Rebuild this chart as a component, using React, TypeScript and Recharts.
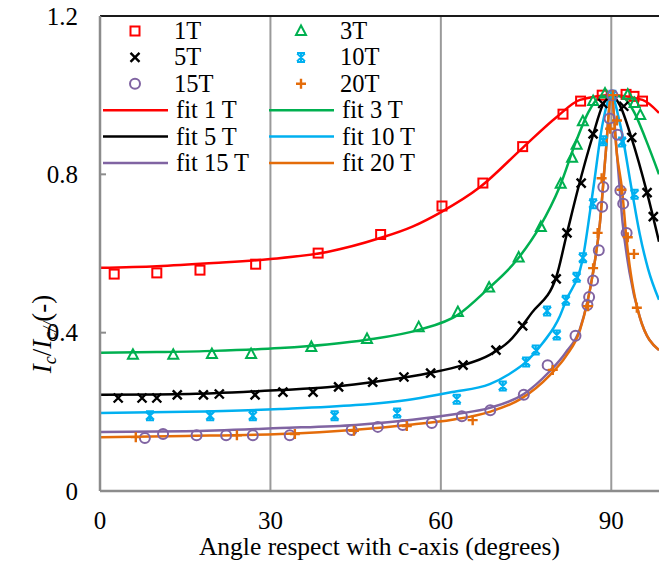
import React from "react";
import {
  ComposedChart,
  Line,
  Scatter,
  XAxis,
  YAxis,
  ReferenceLine,
  Legend,
} from "recharts";

// measured points, [angle, Ic/Ic//]
const data1T = [
  [2.5, 0.548], [10, 0.551], [17.6, 0.558], [27.4, 0.573], [38.4, 0.601],
  [49.4, 0.648], [60.2, 0.72], [67.4, 0.778], [74.4, 0.87], [81.5, 0.952],
  [84.6, 0.985], [88.4, 1.0], [92.6, 1.002], [94.0, 0.997], [95.5, 0.985],
];
const data3T = [
  [5.8, 0.344], [12.9, 0.344], [19.7, 0.346], [26.6, 0.346], [37.2, 0.364],
  [47, 0.384], [56.1, 0.414], [63, 0.452], [68.5, 0.514], [73.7, 0.59],
  [77.6, 0.667], [81.1, 0.776], [83.1, 0.842], [83.9, 0.875], [85, 0.934],
  [86.8, 0.985], [88.9, 1.004], [92.9, 1.001], [94.1, 0.98], [95.1, 0.95],
];
const data5T = [
  [3.2, 0.235], [7.4, 0.235], [10, 0.235], [13.6, 0.243], [18.2, 0.243],
  [21, 0.245], [27.3, 0.243], [32.2, 0.25], [37.5, 0.25], [42, 0.263],
  [48, 0.275], [53.5, 0.288], [58.2, 0.298], [63.9, 0.318], [69.7, 0.356],
  [74.4, 0.417], [80.3, 0.536], [82.2, 0.652], [84.7, 0.778], [86.8, 0.902],
  [88.5, 0.979], [92.2, 0.972], [93.6, 0.893], [96.3, 0.754], [97.4, 0.693],
];
const data10T = [
  [8.8, 0.19], [19.4, 0.19], [26.9, 0.19], [41.3, 0.19], [52.3, 0.197],
  [62.8, 0.232], [70.9, 0.265], [75, 0.326], [76.7, 0.356], [78.7, 0.455],
  [80.4, 0.394], [82, 0.482], [83.9, 0.54], [85, 0.589], [86.8, 0.726],
  [88.6, 0.885], [90.2, 1.0], [91.9, 0.882], [94.1, 0.75],
];
const data15T = [
  [7.9, 0.134], [11.1, 0.144], [17, 0.141], [22.2, 0.141], [26.9, 0.141],
  [33.4, 0.141], [44.3, 0.154], [48.9, 0.162], [53.3, 0.167], [58.4, 0.172],
  [63.7, 0.189], [68.7, 0.204], [74.6, 0.243], [78.8, 0.318], [83.7, 0.392],
  [85.8, 0.47], [86.1, 0.49], [86.8, 0.532], [87.8, 0.608], [88.4, 0.718],
  [88.6, 0.768], [89.7, 0.941], [90.2, 1.0], [91.1, 0.9], [91.6, 0.759],
  [92.1, 0.726], [92.7, 0.652],
];
const data20T = [
  [6.3, 0.136], [24.1, 0.141], [34.3, 0.144], [44.7, 0.152], [54, 0.164],
  [65.6, 0.179], [79.7, 0.306], [85.9, 0.467], [86.8, 0.563], [87.6, 0.652],
  [88.3, 0.79], [89.8, 0.915], [90.3, 1.0], [91, 0.936], [91.8, 0.761],
  [92.9, 0.641], [94, 0.599], [94.5, 0.463],
];

// fitted curves
const fit1T = [
  [0, 0.564], [10, 0.568], [20, 0.576], [30, 0.586], [40, 0.604],
  [49.3, 0.639], [55, 0.668], [60.2, 0.706], [66.9, 0.768], [74.4, 0.867],
  [80.4, 0.945], [84.5, 0.988], [90, 1.0], [95.5, 0.988], [98.4, 0.955],
];
const fit3T = [
  [0, 0.349], [10, 0.351], [20, 0.354], [31.7, 0.361], [40, 0.37],
  [47, 0.382], [56.1, 0.407], [63, 0.445], [68.1, 0.508], [73.4, 0.584],
  [77.4, 0.667], [80.9, 0.768], [83.9, 0.887], [86, 0.958], [88, 0.995],
  [90, 1.0], [92, 0.995], [94, 0.958], [96.1, 0.887], [98.4, 0.8],
];
const fit5T = [
  [0, 0.243], [10, 0.244], [20, 0.247], [31.7, 0.255], [40, 0.262],
  [50, 0.279], [58, 0.298], [63.9, 0.318], [68.6, 0.344], [72, 0.378],
  [76, 0.45], [80.3, 0.54], [82.1, 0.645], [84.1, 0.761], [86.8, 0.9],
  [88.5, 0.975], [90, 1.0], [91.5, 0.975], [93.6, 0.89], [96.3, 0.753],
  [98.4, 0.63],
];
const fit10T = [
  [0, 0.197], [15, 0.2], [31.7, 0.207], [45, 0.217], [55, 0.232],
  [62, 0.25], [68.6, 0.27], [72, 0.295], [75, 0.326], [78, 0.375],
  [80.9, 0.44], [82, 0.48], [85, 0.589], [86.8, 0.761], [88.5, 0.93],
  [90, 1.0], [91.5, 0.93], [93.6, 0.761], [95, 0.65], [96.5, 0.56],
  [98.4, 0.483],
];
const fit15T = [
  [0, 0.149], [15, 0.151], [31.7, 0.159], [45, 0.167], [55, 0.18],
  [63, 0.195], [68.6, 0.21], [74.6, 0.245], [79, 0.3], [82, 0.35],
  [84.5, 0.41], [86.8, 0.553], [88, 0.677], [89, 0.85], [90, 1.0],
  [91, 0.85], [92, 0.677], [93.2, 0.553], [95, 0.44], [98.4, 0.356],
];
const fit20T = [
  [0, 0.136], [15, 0.139], [31.7, 0.144], [45, 0.155], [55, 0.168],
  [62, 0.18], [68.6, 0.2], [74, 0.232], [79.2, 0.293], [82, 0.34],
  [84.5, 0.407], [86.8, 0.553], [88, 0.677], [89, 0.85], [90, 1.0],
  [91, 0.85], [91.9, 0.761], [92.7, 0.634], [95, 0.44], [98.4, 0.356],
];

const xTicks = [0, 30, 60, 90];
const yTicks = [0, 0.4, 0.8, 1.2];
const xGrid = [30, 60, 90];

const FONT = "'Liberation Serif', 'Times New Roman', serif";
const AXIS_GRAY = "#8c8c8c";

const toPts = (arr: number[][]) => arr.map(([x, y]) => ({ x, y }));

type MarkerKind = "square" | "triangle" | "cross" | "star" | "circle" | "plus";

function Marker({ kind, cx, cy, color }: { kind: MarkerKind; cx: number; cy: number; color: string }) {
  const sw = 2;
  switch (kind) {
    case "square":
      return <rect x={cx - 4.5} y={cy - 4.5} width={9} height={9} fill="none" stroke={color} strokeWidth={sw} />;
    case "triangle":
      return (
        <polygon
          points={`${cx},${cy - 5.5} ${cx - 5},${cy + 4} ${cx + 5},${cy + 4}`}
          fill="none"
          stroke={color}
          strokeWidth={sw}
        />
      );
    case "cross":
      return (
        <path
          d={`M${cx - 4.5},${cy - 4.5}L${cx + 4.5},${cy + 4.5}M${cx - 4.5},${cy + 4.5}L${cx + 4.5},${cy - 4.5}`}
          stroke={color}
          strokeWidth={2.4}
        />
      );
    case "star":
      return (
        <path
          d={`M${cx - 4},${cy - 4}L${cx + 4},${cy + 4}M${cx - 4},${cy + 4}L${cx + 4},${cy - 4}M${cx},${cy - 4.5}L${cx},${cy + 4.5}M${cx - 4},${cy - 4.5}L${cx + 4},${cy - 4.5}M${cx - 4},${cy + 4.5}L${cx + 4},${cy + 4.5}`}
          stroke={color}
          strokeWidth={2}
        />
      );
    case "circle":
      return <circle cx={cx} cy={cy} r={5} fill="none" stroke={color} strokeWidth={sw} />;
    case "plus":
      return (
        <path
          d={`M${cx - 5},${cy}L${cx + 5},${cy}M${cx},${cy - 5}L${cx},${cy + 5}`}
          stroke={color}
          strokeWidth={2.4}
        />
      );
  }
}

const RED = "#ff0000";
const GREEN = "#00b050";
const BLACK = "#000000";
const CYAN = "#00b0f0";
const PURPLE = "#8064a2";
const ORANGE = "#e46c0a";

const measured = [
  { name: "1T", data: data1T, color: RED, kind: "square" as MarkerKind },
  { name: "3T", data: data3T, color: GREEN, kind: "triangle" as MarkerKind },
  { name: "5T", data: data5T, color: BLACK, kind: "cross" as MarkerKind },
  { name: "10T", data: data10T, color: CYAN, kind: "star" as MarkerKind },
  { name: "15T", data: data15T, color: PURPLE, kind: "circle" as MarkerKind },
  { name: "20T", data: data20T, color: ORANGE, kind: "plus" as MarkerKind },
];

const fits = [
  { name: "fit 1 T", data: fit1T, color: RED },
  { name: "fit 3 T", data: fit3T, color: GREEN },
  { name: "fit 5 T", data: fit5T, color: BLACK },
  { name: "fit 10 T", data: fit10T, color: CYAN },
  { name: "fit 15 T", data: fit15T, color: PURPLE },
  { name: "fit 20 T", data: fit20T, color: ORANGE },
];

function XTick(props: any) {
  const { x, y, payload } = props;
  return (
    <text x={x} y={y} textAnchor="middle" fontFamily={FONT} fontSize={25} fill="#000">
      {payload.value}
    </text>
  );
}

function YTick(props: any) {
  const { x, y, payload } = props;
  const v = payload.value;
  return (
    <g>
      <text x={x} y={y + 8.5} textAnchor="end" fontFamily={FONT} fontSize={25} fill="#000">
        {v === 0 ? "0" : v.toFixed(1)}
      </text>
      {v > 0 && v < 1.2 && (
        <line x1={x + 22} x2={x + 28} y1={y} y2={y} stroke={AXIS_GRAY} strokeWidth={2} />
      )}
    </g>
  );
}

function ChartLegend() {
  const colX = [0, 166];
  const rowY = (i: number) => 31 + i * 26.4;
  return (
    <svg width={340} height={180} style={{ position: "absolute", left: 100, top: 0 }}>
      {measured.map((s, i) => {
        const c = i % 2;
        const r = Math.floor(i / 2);
        const y = rowY(r);
        return (
          <g key={s.name}>
            <Marker kind={s.kind} cx={colX[c] + 35} cy={y} color={s.color} />
            <text x={colX[c] + 74} y={y + 8} fontFamily={FONT} fontSize={24.5}>
              {s.name}
            </text>
          </g>
        );
      })}
      {fits.map((s, i) => {
        const c = i % 2;
        const r = 3 + Math.floor(i / 2);
        const y = rowY(r);
        return (
          <g key={s.name}>
            <line x1={colX[c] + 3} x2={colX[c] + 68} y1={y} y2={y} stroke={s.color} strokeWidth={2.5} />
            <text x={colX[c] + 76} y={y + 8} fontFamily={FONT} fontSize={24.5}>
              {s.name}
            </text>
          </g>
        );
      })}
    </svg>
  );
}

function YLabel() {
  return (
    <text
      transform="translate(51,334) rotate(-90)"
      textAnchor="middle"
      fontFamily={FONT}
      fontSize={27}
      fill="#000"
    >
      <tspan fontStyle="italic">I</tspan>
      <tspan fontStyle="italic" fontSize={18} dy={5}>c</tspan>
      <tspan dy={-5}>/</tspan>
      <tspan fontStyle="italic">I</tspan>
      <tspan fontStyle="italic" fontSize={18} dy={5}>c//</tspan>
      <tspan dy={-5}>(-)</tspan>
    </text>
  );
}

export default function App() {
  return (
    <div style={{ position: "absolute", left: 0, top: 0, width: 659, height: 562, background: "#fff" }}>
      <ComposedChart width={659} height={562} margin={{ top: 16, right: 0, bottom: 0, left: 0 }}>
        <XAxis
          type="number"
          dataKey="x"
          domain={[0, 98.4]}
          allowDataOverflow
          ticks={xTicks}
          tick={<XTick />}
          tickLine={false}
          tickSize={0}
          tickMargin={38}
          height={71}
          axisLine={{ stroke: AXIS_GRAY, strokeWidth: 2.5 }}
          label={{
            value: "Angle respect with c-axis (degrees)",
            position: "insideBottom",
            offset: 7,
            style: { fontFamily: FONT, fontSize: 25.5, fill: "#000" },
          }}
        />
        <YAxis
          type="number"
          dataKey="y"
          domain={[0, 1.2]}
          ticks={yTicks}
          tick={<YTick />}
          tickLine={false}
          tickSize={0}
          tickMargin={22}
          width={100}
          axisLine={{ stroke: AXIS_GRAY, strokeWidth: 2.5 }}
          label={<YLabel />}
        />
        {xGrid.map((g) => (
          <ReferenceLine key={g} x={g} stroke="#9a9a9a" strokeWidth={2} />
        ))}
        <ReferenceLine y={1.2} stroke="#1a1a1a" strokeWidth={2} />
        {measured.map((s) => (
          <Scatter
            key={s.name}
            name={s.name}
            data={toPts(s.data)}
            dataKey="y"
            isAnimationActive={false}
            shape={(p: any) => <Marker kind={s.kind} cx={p.cx} cy={p.cy} color={s.color} />}
          />
        ))}
        {fits.map((s) => (
          <Line
            key={s.name}
            name={s.name}
            data={toPts(s.data)}
            dataKey="y"
            type="monotone"
            stroke={s.color}
            strokeWidth={2.5}
            dot={false}
            activeDot={false}
            isAnimationActive={false}
          />
        ))}
        <Legend content={() => null} />
      </ComposedChart>
      <ChartLegend />
    </div>
  );
}
